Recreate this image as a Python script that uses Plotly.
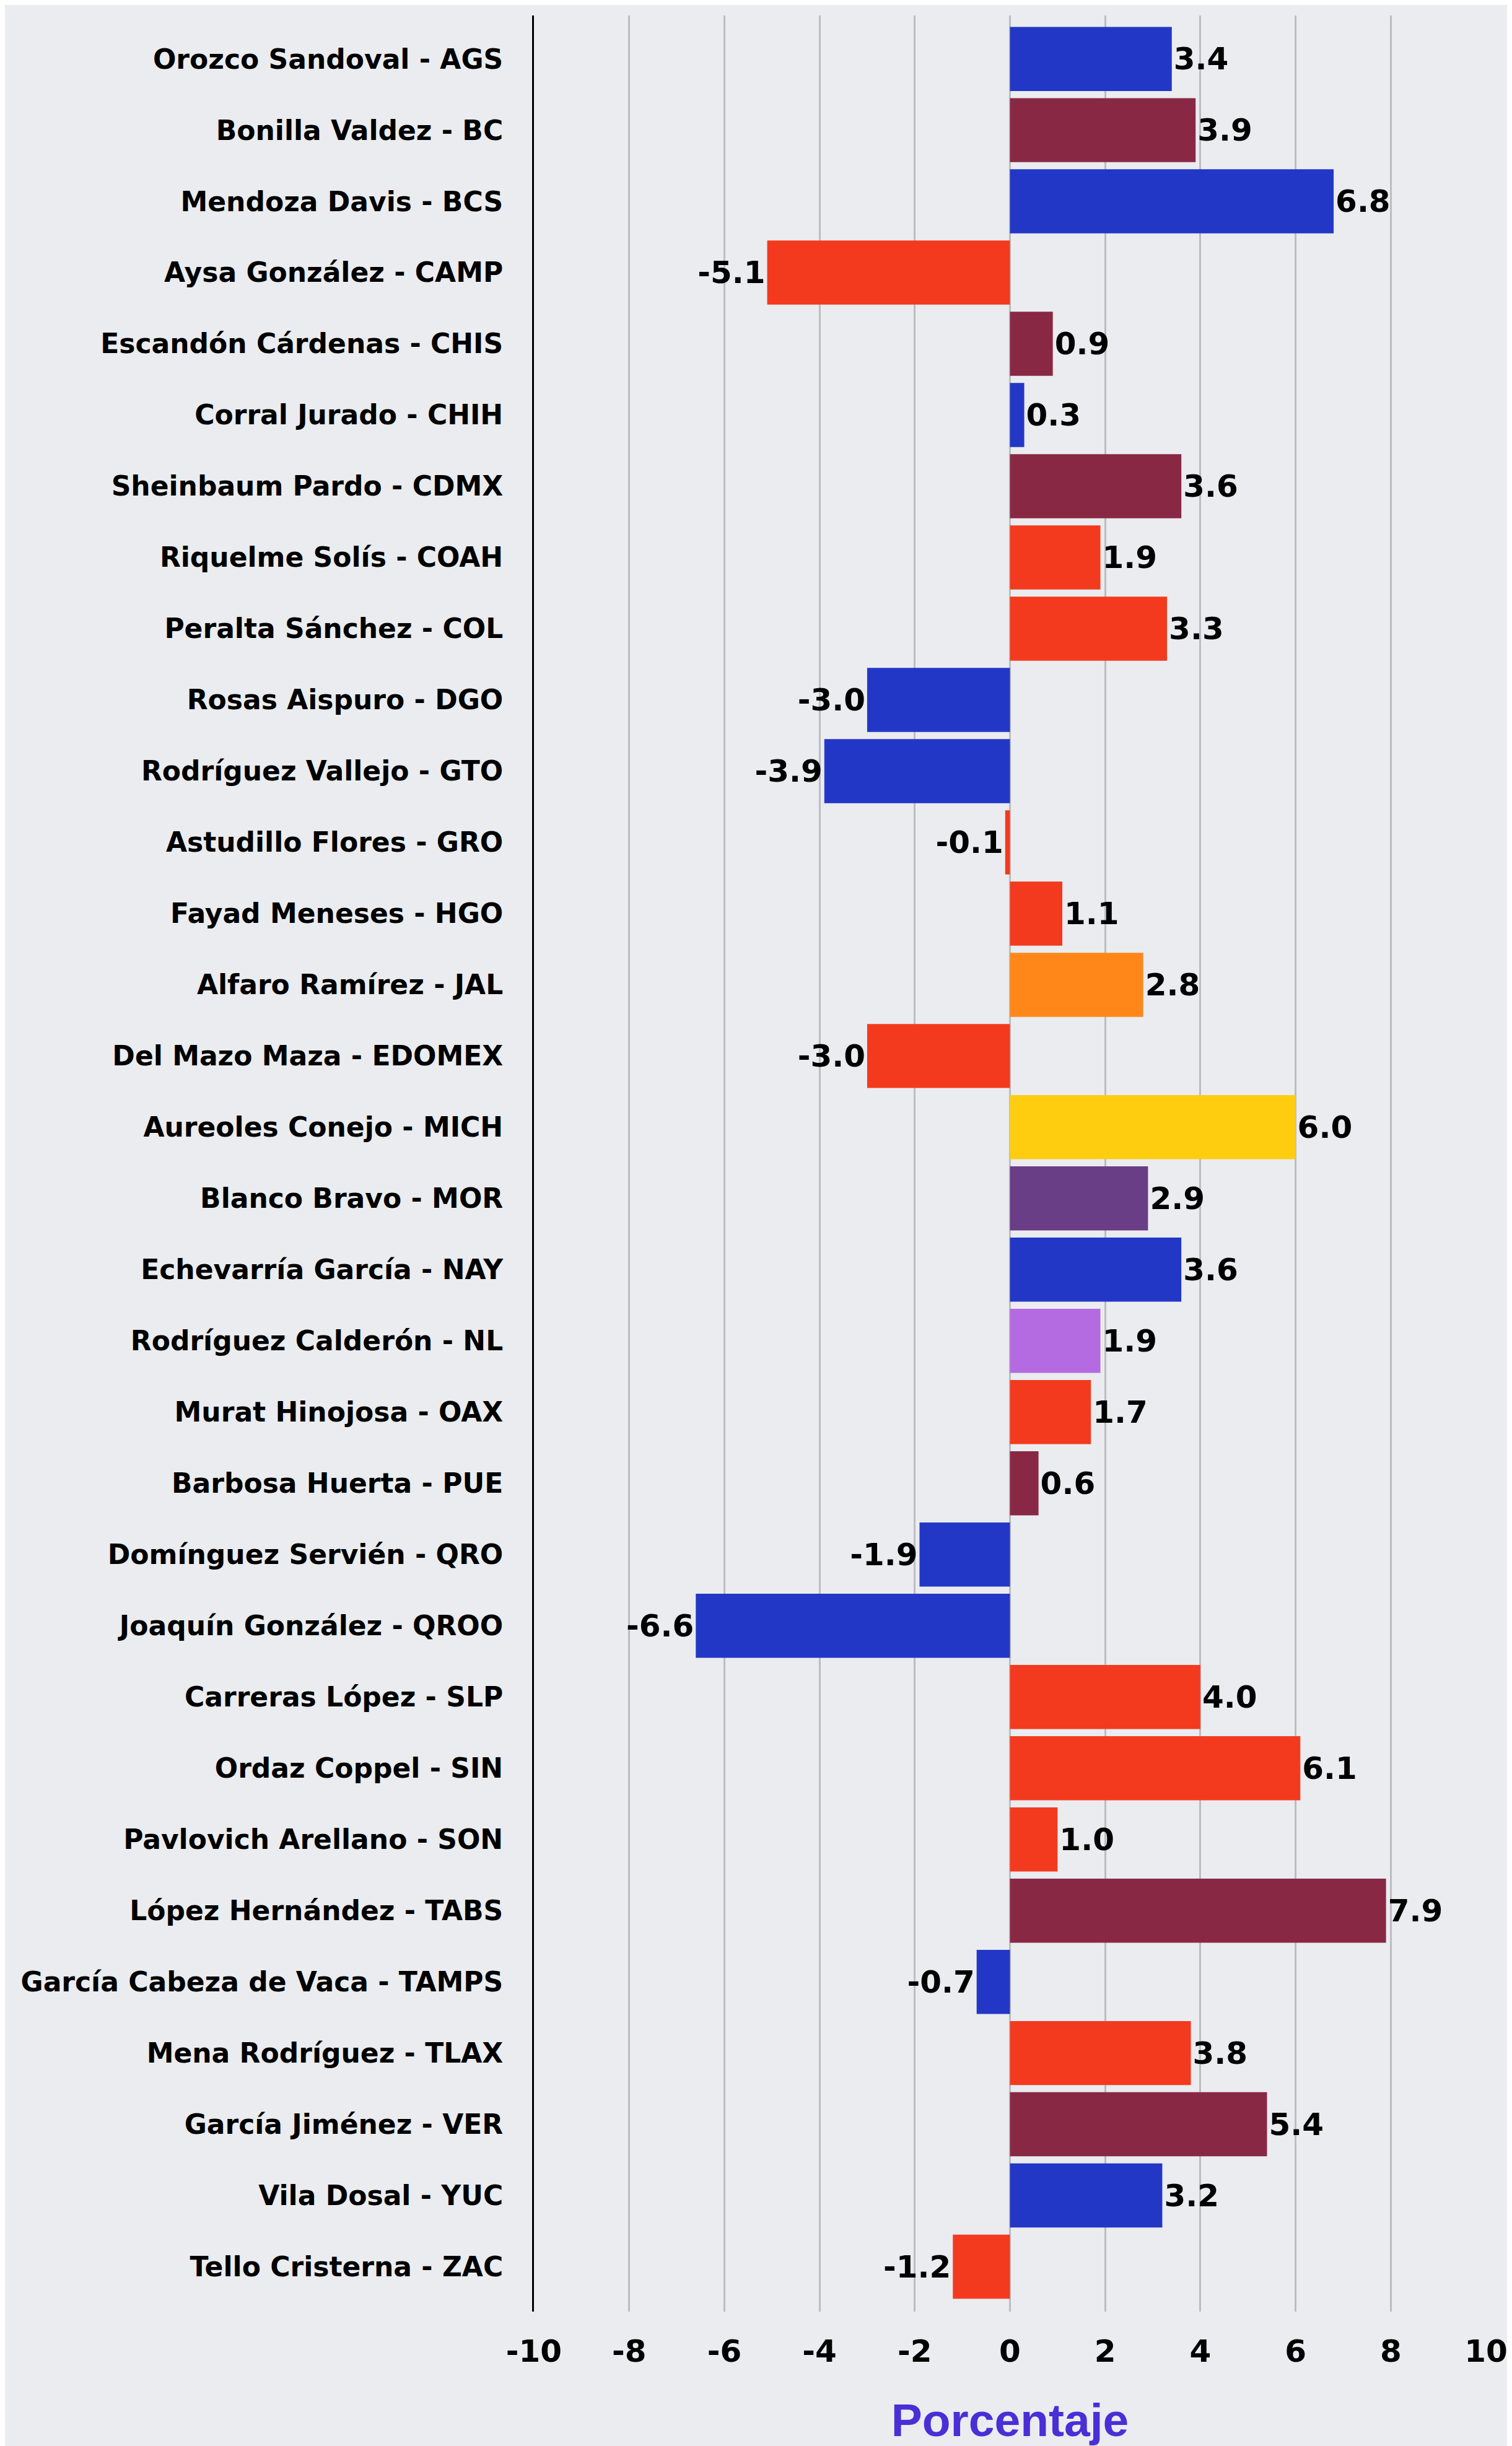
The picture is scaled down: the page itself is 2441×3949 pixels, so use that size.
import plotly.graph_objects as go

labels = [
    "Orozco Sandoval - AGS", "Bonilla Valdez - BC", "Mendoza Davis - BCS", "Aysa González - CAMP",
    "Escandón Cárdenas - CHIS", "Corral Jurado - CHIH", "Sheinbaum Pardo - CDMX", "Riquelme Solís - COAH",
    "Peralta Sánchez - COL", "Rosas Aispuro - DGO", "Rodríguez Vallejo - GTO", "Astudillo Flores - GRO",
    "Fayad Meneses - HGO", "Alfaro Ramírez - JAL", "Del Mazo Maza - EDOMEX", "Aureoles Conejo - MICH",
    "Blanco Bravo - MOR", "Echevarría García - NAY", "Rodríguez Calderón - NL", "Murat Hinojosa - OAX",
    "Barbosa Huerta - PUE", "Domínguez Servién - QRO", "Joaquín González - QROO", "Carreras López - SLP",
    "Ordaz Coppel - SIN", "Pavlovich Arellano - SON", "López Hernández - TABS", "García Cabeza de Vaca - TAMPS",
    "Mena Rodríguez - TLAX", "García Jiménez - VER", "Vila Dosal - YUC", "Tello Cristerna - ZAC",
]
values = [3.4, 3.9, 6.8, -5.1, 0.9, 0.3, 3.6, 1.9, 3.3, -3.0, -3.9, -0.1, 1.1, 2.8, -3.0, 6.0,
          2.9, 3.6, 1.9, 1.7, 0.6, -1.9, -6.6, 4.0, 6.1, 1.0, 7.9, -0.7, 3.8, 5.4, 3.2, -1.2]
parties = ["PAN", "MORENA", "PAN", "PRI", "MORENA", "PAN", "MORENA", "PRI",
           "PRI", "PAN", "PAN", "PRI", "PRI", "MC", "PRI", "PRD",
           "PES", "PAN", "IND", "PRI", "MORENA", "PAN", "PAN", "PRI",
           "PRI", "PRI", "MORENA", "PAN", "PRI", "MORENA", "PAN", "PRI"]
party_colors = {
    "PAN": "#2337c6", "MORENA": "#892845", "PRI": "#f43a1e", "MC": "#ff8719",
    "PRD": "#fecd0f", "PES": "#6a3d87", "IND": "#b46be1",
}
x_ticks = [-10, -8, -6, -4, -2, 0, 2, 4, 6, 8, 10]
x_title = "Porcentaje"

fig = go.Figure(go.Bar(
    x=values, y=labels, orientation="h",
    marker=dict(color=[party_colors[p] for p in parties], line=dict(width=0)),
    text=[f"{v:.1f}" for v in values], textposition="outside",
    textfont=dict(family="DejaVu Sans", size=50, color="#000000", weight="bold"),
    constraintext="none", cliponaxis=False, width=0.9,
))

fig.update_layout(
    width=2433, height=3941,
    margin=dict(l=854, r=42, t=17, b=217),
    paper_bgcolor="#eaecef", plot_bgcolor="rgba(0,0,0,0)",
    showlegend=False,
    xaxis=dict(
        range=[-10, 10], tickvals=x_ticks, ticktext=[str(t) for t in x_ticks],
        showgrid=True, gridcolor="#bcbdc0", gridwidth=3, zeroline=False,
        showline=False, ticks="", ticklabelstandoff=30, automargin=False,
        tickfont=dict(family="DejaVu Sans", size=50, color="#000000", weight="bold"),
        title=dict(text=x_title, standoff=57,
                   font=dict(family="Liberation Sans", size=75, color="#4a2ed6", weight="bold")),
    ),
    yaxis=dict(
        type="category", range=[31.63, -0.61], autorange=False,
        showgrid=False, showline=True, linecolor="#000000", linewidth=3,
        ticks="", ticklabelstandoff=38, automargin=False,
        tickfont=dict(family="DejaVu Sans", size=44, color="#000000", weight="bold"),
    ),
)

fig.write_html("out.html")
